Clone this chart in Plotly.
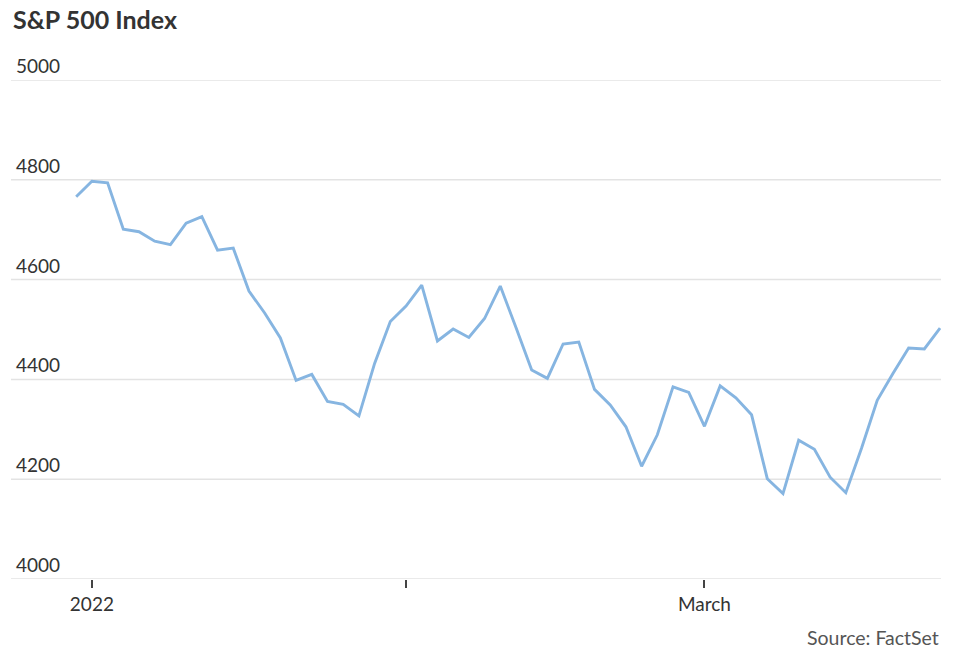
import plotly.graph_objects as go

dates = [
    "2021-12-31",
    "2022-01-03", "2022-01-04", "2022-01-05", "2022-01-06", "2022-01-07",
    "2022-01-10", "2022-01-11", "2022-01-12", "2022-01-13", "2022-01-14",
    "2022-01-18", "2022-01-19", "2022-01-20", "2022-01-21",
    "2022-01-24", "2022-01-25", "2022-01-26", "2022-01-27", "2022-01-28",
    "2022-01-31", "2022-02-01", "2022-02-02", "2022-02-03", "2022-02-04",
    "2022-02-07", "2022-02-08", "2022-02-09", "2022-02-10", "2022-02-11",
    "2022-02-14", "2022-02-15", "2022-02-16", "2022-02-17", "2022-02-18",
    "2022-02-22", "2022-02-23", "2022-02-24", "2022-02-25",
    "2022-02-28", "2022-03-01", "2022-03-02", "2022-03-03", "2022-03-04",
    "2022-03-07", "2022-03-08", "2022-03-09", "2022-03-10", "2022-03-11",
    "2022-03-14", "2022-03-15", "2022-03-16", "2022-03-17", "2022-03-18",
    "2022-03-21", "2022-03-22",
]
sp500 = [
    4766,
    4797, 4794, 4701, 4696, 4677,
    4670, 4713, 4726, 4659, 4663,
    4577, 4533, 4483, 4398,
    4410, 4356, 4350, 4327, 4432,
    4516, 4547, 4589, 4477, 4501,
    4484, 4522, 4587, 4504, 4419,
    4402, 4471, 4475, 4380, 4349,
    4305, 4226, 4289, 4385,
    4374, 4306, 4387, 4363, 4329,
    4201, 4171, 4278, 4260, 4204,
    4173, 4262, 4358, 4412, 4463,
    4461, 4503,
]
y_ticks = [4000, 4200, 4400, 4600, 4800, 5000]
x_tick_dates = ["2022-01-03", "2022-02-01", "2022-03-01"]
x_tick_labels = ["2022", "", "March"]

FONT = "Lato, 'Open Sans', sans-serif"
GRID = "#e3e3e3"

fig = go.Figure()
fig.add_trace(go.Scatter(
    x=dates, y=sp500, mode="lines",
    line=dict(color="#86b5e1", width=2.9),
    hoverinfo="skip",
))

annotations = []
shapes = []
for v in y_ticks:
    annotations.append(dict(
        x=0, xref="paper", y=v, yref="y", text=str(v), showarrow=False,
        xanchor="left", yanchor="bottom", xshift=3, yshift=1,
        font=dict(family=FONT, size=19, color="#333333"),
    ))
    shapes.append(dict(
        type="line", xref="paper", x0=0, x1=1, yref="y", y0=v, y1=v,
        line=dict(color=GRID, width=1.5), layer="below",
    ))
annotations.append(dict(
    x=0, xref="paper", y=1, yref="paper", yshift=44, text="<b>S&P 500 Index</b>",
    showarrow=False, xanchor="left", yanchor="bottom", xshift=0,
    font=dict(family=FONT, size=25, color="#333333"),
))
annotations.append(dict(
    x=1, xref="paper", y=0, yref="paper", yshift=-72, text="Source: FactSet",
    showarrow=False, xanchor="right", yanchor="bottom",
    font=dict(family=FONT, size=19.5, color="#555555"),
))

fig.update_layout(
    width=953, height=654,
    margin=dict(l=11, r=12, t=80, b=75),
    paper_bgcolor="white", plot_bgcolor="white",
    showlegend=False,
    annotations=annotations,
    shapes=shapes,
    xaxis=dict(
        type="category", categoryorder="array", categoryarray=dates,
        range=[-4.15, 55.06],
        tickvals=x_tick_dates, ticktext=x_tick_labels,
        ticks="outside", ticklen=8, tickwidth=1.5, tickcolor="#444444",
        showgrid=False, showline=False, zeroline=False,
        tickfont=dict(family=FONT, size=19, color="#333333"),
    ),
    yaxis=dict(
        range=[4000, 5000], tickvals=y_ticks, showticklabels=False,
        showgrid=False, zeroline=False, showline=False,
    ),
)

fig.write_html(
    "out.html",
    config={"displayModeBar": False},
    post_script="document.body.style.margin='0';document.body.style.overflow='hidden';",
)
